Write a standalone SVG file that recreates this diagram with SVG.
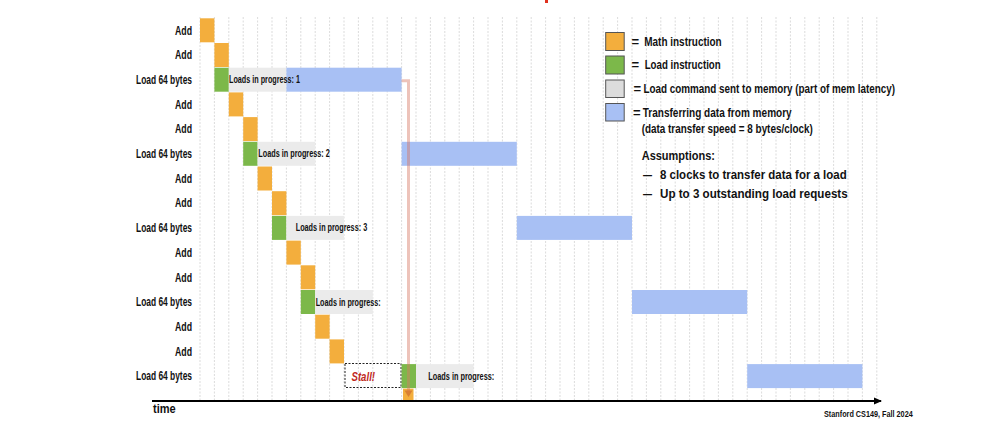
<svg xmlns="http://www.w3.org/2000/svg" width="990" height="434" viewBox="0 0 990 434">
<defs>
<style>
.lbl{font-family:"Liberation Sans",Arial,sans-serif;font-weight:bold;font-size:12px;fill:#111;text-anchor:end}
.lip{font-family:"Liberation Sans",Arial,sans-serif;font-weight:bold;font-size:10px;fill:#111}
.leg{font-family:"Liberation Sans",Arial,sans-serif;font-weight:bold;font-size:13px;fill:#111}
.math{fill:#F3AE3D}
.load{fill:#7CB84A}
.cmd{fill:#EBEBEB}
.xfer{fill:#A8C0F4}
.lbox{stroke:#555;stroke-width:1}
.grid{stroke:#d2d2d2;stroke-width:0.8;stroke-dasharray:2 1.5;fill:none}
</style>
<marker id="axarrow" viewBox="0 0 8 8" refX="7" refY="4" markerWidth="8" markerHeight="8" markerUnits="userSpaceOnUse" orient="auto">
<path d="M0,0.5 L8,4 L0,7.5 Z" fill="#000"/>
</marker>
</defs>
<rect width="990" height="434" fill="#fff"/>
<rect x="545" y="0" width="3" height="3" fill="#E0301E"/>
<g id="grid">
<path class="grid" d="M200,17V400M214.4,17V400M228.8,17V400M243.2,17V400M257.6,17V400M272,17V400M286.4,17V400M300.8,17V400M315.2,17V400M329.6,17V400M344,17V400M358.4,17V400M372.8,17V400M387.2,17V400M401.6,17V400M416,17V400M430.4,17V400M444.8,17V400M459.2,17V400M473.6,17V400M488,17V400M502.4,17V400M516.8,17V400M531.2,17V400M545.6,17V400M560,17V400M574.4,17V400M588.8,17V400M603.2,17V400M617.6,17V400M632,17V400M646.4,17V400M660.8,17V400M675.2,17V400M689.6,17V400M704,17V400M718.4,17V400M732.8,17V400M747.2,17V400M761.6,17V400M776,17V400M790.4,17V400M804.8,17V400M819.2,17V400M833.6,17V400M848,17V400M862.4,17V400M876.8,17V400"/>
</g>
<g id="labels">
<text class="lbl" x="192" y="34.5" textLength="17" lengthAdjust="spacingAndGlyphs">Add</text>
<text class="lbl" x="192" y="59.2" textLength="17" lengthAdjust="spacingAndGlyphs">Add</text>
<text class="lbl" x="192" y="83.9" textLength="56" lengthAdjust="spacingAndGlyphs">Load 64 bytes</text>
<text class="lbl" x="192" y="108.6" textLength="17" lengthAdjust="spacingAndGlyphs">Add</text>
<text class="lbl" x="192" y="133.3" textLength="17" lengthAdjust="spacingAndGlyphs">Add</text>
<text class="lbl" x="192" y="158" textLength="56" lengthAdjust="spacingAndGlyphs">Load 64 bytes</text>
<text class="lbl" x="192" y="182.7" textLength="17" lengthAdjust="spacingAndGlyphs">Add</text>
<text class="lbl" x="192" y="207.4" textLength="17" lengthAdjust="spacingAndGlyphs">Add</text>
<text class="lbl" x="192" y="232.1" textLength="56" lengthAdjust="spacingAndGlyphs">Load 64 bytes</text>
<text class="lbl" x="192" y="256.8" textLength="17" lengthAdjust="spacingAndGlyphs">Add</text>
<text class="lbl" x="192" y="281.5" textLength="17" lengthAdjust="spacingAndGlyphs">Add</text>
<text class="lbl" x="192" y="306.2" textLength="56" lengthAdjust="spacingAndGlyphs">Load 64 bytes</text>
<text class="lbl" x="192" y="330.9" textLength="17" lengthAdjust="spacingAndGlyphs">Add</text>
<text class="lbl" x="192" y="355.6" textLength="17" lengthAdjust="spacingAndGlyphs">Add</text>
<text class="lbl" x="192" y="380.3" textLength="56" lengthAdjust="spacingAndGlyphs">Load 64 bytes</text>
</g>
<g id="row0"><rect class="math" x="200" y="18.3" width="14.4" height="24"/></g>
<g id="row1"><rect class="math" x="214.4" y="43" width="14.4" height="24"/></g>
<g id="row2">
<rect class="load" x="214.4" y="67.7" width="14.4" height="24"/>
<rect class="cmd" x="228.8" y="67.7" width="57.6" height="24"/>
<rect class="xfer" x="286.4" y="67.7" width="115.2" height="24"/>
<text class="lip" x="229" y="83.2" textLength="71" lengthAdjust="spacingAndGlyphs">Loads in progress: 1</text>
</g>
<g id="row3"><rect class="math" x="228.8" y="92.4" width="14.4" height="24"/></g>
<g id="row4"><rect class="math" x="243.2" y="117.1" width="14.4" height="24"/></g>
<g id="row5">
<rect class="load" x="243.2" y="141.8" width="14.4" height="24"/>
<rect class="cmd" x="257.6" y="141.8" width="57.6" height="24"/>
<rect class="xfer" x="401.6" y="141.8" width="115.2" height="24"/>
<text class="lip" x="258.3" y="157.3" textLength="71.5" lengthAdjust="spacingAndGlyphs">Loads in progress: 2</text>
</g>
<g id="row6"><rect class="math" x="257.6" y="166.5" width="14.4" height="24"/></g>
<g id="row7"><rect class="math" x="272" y="191.2" width="14.4" height="24"/></g>
<g id="row8">
<rect class="load" x="272" y="215.9" width="14.4" height="24"/>
<rect class="cmd" x="286.4" y="215.9" width="57.6" height="24"/>
<rect class="xfer" x="516.8" y="215.9" width="115.2" height="24"/>
<text class="lip" x="295.7" y="231.4" textLength="71.5" lengthAdjust="spacingAndGlyphs">Loads in progress: 3</text>
</g>
<g id="row9"><rect class="math" x="286.4" y="240.6" width="14.4" height="24"/></g>
<g id="row10"><rect class="math" x="300.8" y="265.3" width="14.4" height="24"/></g>
<g id="row11">
<rect class="load" x="300.8" y="290" width="14.4" height="24"/>
<rect class="cmd" x="315.2" y="290" width="57.6" height="24"/>
<rect class="xfer" x="632" y="290" width="115.2" height="24"/>
<text class="lip" x="315.7" y="305.5" textLength="65" lengthAdjust="spacingAndGlyphs">Loads in progress:</text>
</g>
<g id="row12"><rect class="math" x="315.2" y="314.7" width="14.4" height="24"/></g>
<g id="row13"><rect class="math" x="329.6" y="339.4" width="14.4" height="24"/></g>
<g id="row14">
<rect x="345" y="363.5" width="56" height="24" fill="none" stroke="#222" stroke-width="1" stroke-dasharray="2 1.5"/>
<text x="351.5" y="380.5" font-family="'Liberation Sans',Arial,sans-serif" font-weight="bold" font-style="italic" font-size="12.5" fill="#C0281C" textLength="23.5" lengthAdjust="spacingAndGlyphs">Stall!</text>
<rect class="load" x="401.6" y="364.1" width="14.4" height="24"/>
<rect class="cmd" x="416" y="364.1" width="57.6" height="24"/>
<rect class="xfer" x="747.2" y="364.1" width="115.2" height="24"/>
<text class="lip" x="428.3" y="379.6" textLength="66" lengthAdjust="spacingAndGlyphs">Loads in progress:</text>
</g>
<g id="row15"><rect class="math" x="403" y="388.6" width="10.5" height="11.5"/></g>
<g id="connectors">
<path d="M401.6,80.7 H408.5 V391" fill="none" stroke="#D87A66" stroke-opacity="0.45" stroke-width="3"/>
<path d="M404.5,390.5 L412.5,390.5 L408.5,397 Z" fill="#C0502A" fill-opacity="0.5"/>
<line x1="152" y1="401" x2="881" y2="401" stroke="#000" stroke-width="2" marker-end="url(#axarrow)"/>
</g>
<g id="axis-labels">
<text x="153" y="413" font-family="'Liberation Sans',Arial,sans-serif" font-weight="bold" font-size="13" fill="#111" textLength="22.7" lengthAdjust="spacingAndGlyphs">time</text>
<text x="824" y="417.3" font-family="'Liberation Sans',Arial,sans-serif" font-weight="bold" font-size="9" fill="#111" textLength="88.7" lengthAdjust="spacingAndGlyphs">Stanford CS149, Fall 2024</text>
</g>
<g id="legend">
<rect class="math lbox" x="605.7" y="32.5" width="18.5" height="18"/>
<text class="leg" x="631.5" y="46">=</text>
<text class="leg" x="644.3" y="46" textLength="77.4" lengthAdjust="spacingAndGlyphs">Math instruction</text>
<rect class="load lbox" x="605.7" y="56" width="18.5" height="18"/>
<text class="leg" x="631.5" y="69.3">=</text>
<text class="leg" x="644.7" y="69.3" textLength="76" lengthAdjust="spacingAndGlyphs">Load instruction</text>
<rect class="lbox" fill="#DCDCDC" x="605.7" y="80" width="18.5" height="17.5"/>
<text class="leg" x="633.5" y="93.3">=</text>
<text class="leg" x="643.5" y="93.3" textLength="251.5" lengthAdjust="spacingAndGlyphs">Load command sent to memory (part of mem latency)</text>
<rect class="xfer lbox" x="605.7" y="103.5" width="18.5" height="17.5"/>
<text class="leg" x="633" y="117.3">=</text>
<text class="leg" x="642.7" y="117.3" textLength="149" lengthAdjust="spacingAndGlyphs">Transferring data from memory</text>
<text class="leg" x="641.7" y="132.7" textLength="171" lengthAdjust="spacingAndGlyphs">(data transfer speed = 8 bytes/clock)</text>
<text class="leg" x="641.7" y="160" font-size="16" textLength="73.3" lengthAdjust="spacingAndGlyphs">Assumptions:</text>
<text class="leg" x="643" y="179" font-size="14" textLength="9" lengthAdjust="spacingAndGlyphs">—</text>
<text class="leg" x="660" y="179" font-size="14.5" textLength="186.7" lengthAdjust="spacingAndGlyphs">8 clocks to transfer data for a load</text>
<text class="leg" x="643" y="197.5" font-size="14" textLength="9" lengthAdjust="spacingAndGlyphs">—</text>
<text class="leg" x="660" y="197.5" font-size="14.5" textLength="187.7" lengthAdjust="spacingAndGlyphs">Up to 3 outstanding load requests</text>
</g>
</svg>
